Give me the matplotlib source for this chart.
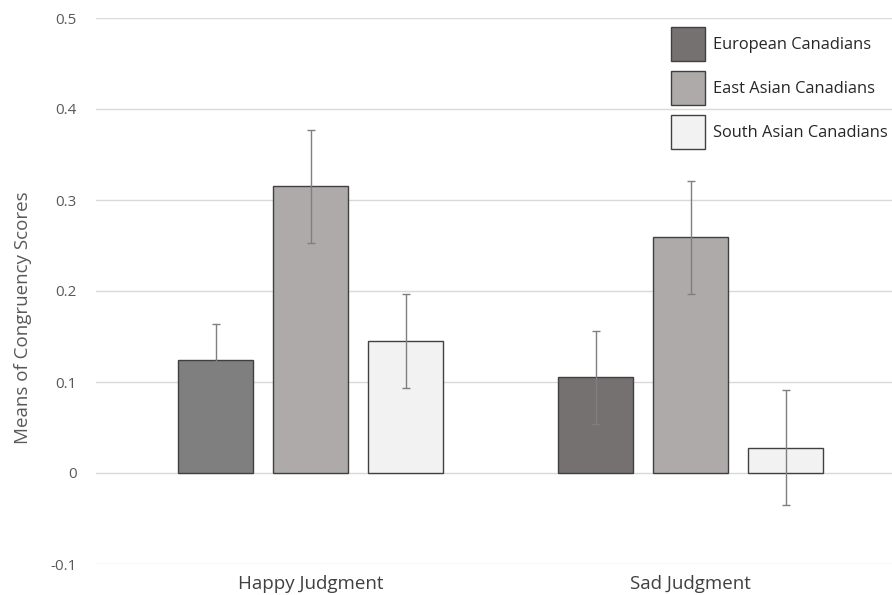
import numpy as np
import matplotlib.pyplot as plt

# chart values
categories = ["Happy Judgment", "Sad Judgment"]
groups = ["European Canadians", "East Asian Canadians", "South Asian Canadians"]
means_european = [0.124, 0.105]
means_east = [0.315, 0.259]
means_south = [0.145, 0.028]
err_european = [0.040, 0.051]
err_east = [0.062, 0.062]
err_south = [0.052, 0.063]
yticks = [-0.1, 0, 0.1, 0.2, 0.3, 0.4, 0.5]
ytick_labels = ["-0.1", "0", "0.1", "0.2", "0.3", "0.4", "0.5"]

plt.rcParams['font.family'] = ['Open Sans', 'DejaVu Sans']

fig = plt.figure(figsize=(8.92, 5.95), dpi=100)
W, H = 892, 595
ax = fig.add_axes([96 / W, 1 - 564 / H, (892 - 96) / W, (564 - 18) / H])

x = np.arange(len(categories))
width = 0.197
step = 0.25
edge = "#404040"
errc = "#7f7f7f"

# european bars: happy slightly lighter than sad in the original
ax.bar(x - step, means_european, width, color=["#7f7f7f", "#767171"],
       edgecolor=edge, linewidth=1, zorder=2)
ax.bar(x, means_east, width, color="#aeaaaa", edgecolor=edge, linewidth=1, zorder=2)
ax.bar(x + step, means_south, width, color="#f2f2f2", edgecolor=edge, linewidth=1, zorder=2)

for off, m, e in [(-step, means_european, err_european),
                  (0, means_east, err_east),
                  (step, means_south, err_south)]:
    ax.errorbar(x + off, m, yerr=e, fmt="none", ecolor=errc, elinewidth=1,
                capsize=3, capthick=1, zorder=3)

ax.set_xlim(-0.5645, 1.530)
ax.set_ylim(-0.1, 0.5)
ax.set_yticks(yticks)
ax.set_yticklabels(ytick_labels)
ax.set_xticks(x)
ax.set_xticklabels(categories)
ax.yaxis.grid(True, color="#d9d9d9", linewidth=1, zorder=0)
for s in ax.spines.values():
    s.set_visible(False)
ax.tick_params(axis="y", length=0, pad=14, labelsize=11, labelcolor="#595959")
ax.tick_params(axis="x", length=0, pad=8, labelsize=13.5, labelcolor="#404040")
ax.set_ylabel("Means of Congruency Scores", fontsize=13.5, color="#595959")
# label sits a little below the axes centre in the original
ax.yaxis.set_label_coords((32 - 96) / (892 - 96), (564 - 318) / (564 - 18))

# legend boxes drawn as proxy patches
handles = [plt.Rectangle((0, 0), 1, 1, facecolor=c, edgecolor=edge, linewidth=1)
           for c in ["#767171", "#aeaaaa", "#f2f2f2"]]
leg = ax.legend(handles, groups, loc="upper left", bbox_to_anchor=(664 / W, 1 - 20 / H),
                bbox_transform=fig.transFigure, frameon=False, fontsize=11.8,
                handlelength=2.08, handleheight=2.84, handletextpad=0.5,
                labelspacing=0.6, borderaxespad=0)
for t in leg.get_texts():
    t.set_color("#262626")

fig.savefig("out.png", dpi=100)
